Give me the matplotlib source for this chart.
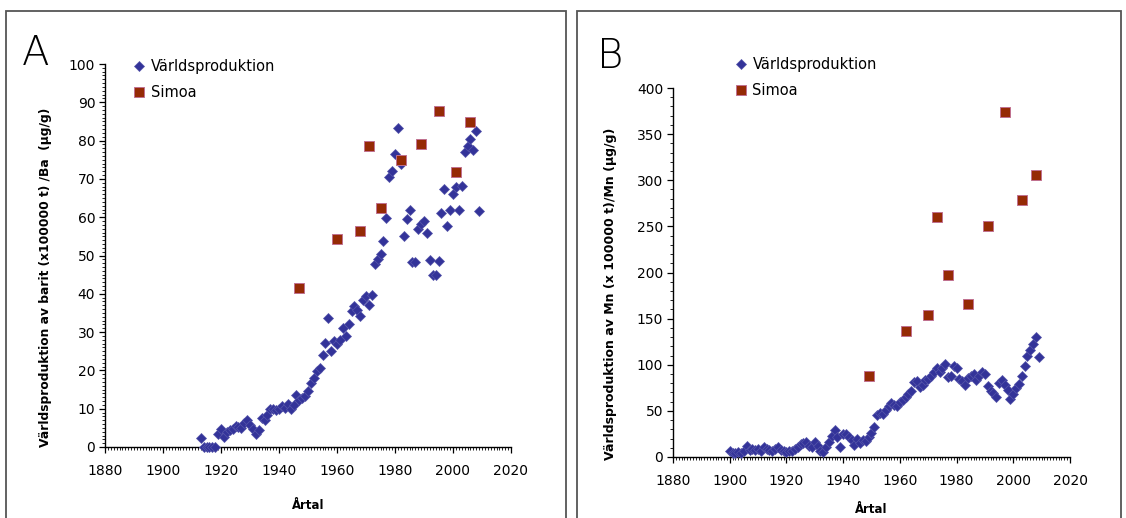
import matplotlib
matplotlib.use("Agg")
import matplotlib.pyplot as plt
from matplotlib.patches import Rectangle
from matplotlib.ticker import MultipleLocator

# --- Panel A: barit / Ba ---
ar_a = list(range(1913, 2010))
varld_a = [
    2.3, 0, 0, 0, 0, 0, 3.5, 4.7, 2.5, 4.0,           # 1913-1922
    4.5, 4.8, 5.5, 5.2, 5.0, 6.2, 7.0, 5.8, 4.6, 3.5,  # 1923-1932
    4.4, 7.5, 7.0, 8.4, 10.0, 10.0, 9.6, 10.0, 10.6, 10.2,  # 1933-1942
    11.1, 9.8, 11.0, 13.7, 12.4, 12.8, 13.2,           # 1943-1949
    14.6, 16.7, 18.0, 19.8, 20.7, 24.1, 27.2, 33.7, 25.0, 27.6,
    27.0, 28.0, 31.1, 28.9, 32.0, 35.5, 36.8, 35.9, 34.2, 38.5,
    39.4, 37.2, 39.8, 47.7, 49.0, 50.3, 53.8, 59.9, 70.4, 72.1,
    76.5, 83.4, 73.8, 55.1, 59.5, 61.9, 48.3, 48.3, 56.8, 58.2,
    59.0, 56.0, 48.7, 44.8, 44.8, 48.6, 61.0, 67.3, 57.7, 61.9,
    66.0, 67.9, 61.9, 68.2, 76.9, 78.6, 80.4, 77.6, 82.6, 61.6,
]
simoa_ar_a = [1947, 1960, 1968, 1971, 1975, 1982, 1989, 1995, 2001, 2006]
simoa_a = [41.6, 54.2, 56.4, 78.6, 62.5, 74.9, 79.1, 87.8, 71.7, 84.9]

# --- Panel B: Mn ---
ar_b = list(range(1900, 2010))
varld_b = [
    6.5, 4.5, 4, 5, 4, 6, 12, 8, 9, 8,
    9, 7, 11, 9, 8, 7, 9, 11, 8, 7,
    5.5, 6.5, 6, 9, 11, 14, 15, 16, 12, 11,
    16, 12, 7, 5, 11, 16, 23, 29, 22, 11,
    25, 25, 22, 18, 13, 20, 15, 18, 17, 22,
    26, 32, 45, 48, 47, 51, 55, 58, 56, 55,
    60, 62, 65, 68, 72, 81, 82, 76, 78, 83,
    85, 88, 92, 97, 92, 96, 101, 87, 88, 99,
    97, 85, 82, 78, 86, 88, 90, 83, 88, 92,
    90, 77, 72, 69, 65, 80, 83, 78, 73, 63,
    68, 75, 79, 88, 99, 110, 116, 122, 130, 108,
]
simoa_ar_b = [1949, 1962, 1970, 1973, 1977, 1984, 1991, 1997, 2003, 2008]
simoa_b = [87.4, 137, 154.3, 260.2, 196.9, 166.2, 250.8, 374.3, 278.2, 305.3]

BLA = "#333399"
ROD = "#952a05"
W, H = 1126, 518


def fig_ax(fig, left, top, right, bottom):
    return fig.add_axes([left / W, 1 - bottom / H,
                         (right - left) / W, (bottom - top) / H])


def stil(ax, ymax, ymaj, ymin):
    ax.set_xlim(1880, 2020)
    ax.set_ylim(0, ymax)
    ax.xaxis.set_major_locator(MultipleLocator(20))
    ax.xaxis.set_minor_locator(MultipleLocator(1))
    ax.yaxis.set_major_locator(MultipleLocator(ymaj))
    ax.yaxis.set_minor_locator(MultipleLocator(ymin))
    for s in ("top", "right"):
        ax.spines[s].set_visible(False)
    for s in ("left", "bottom"):
        ax.spines[s].set_linewidth(1.0)
    ax.tick_params(which="major", direction="out", length=4, width=0.9,
                   labelsize=10, colors="black")
    ax.tick_params(which="minor", direction="out", length=2.5, width=0.6)
    ax.tick_params(axis="x", which="major", pad=8)
    ax.tick_params(axis="y", which="major", pad=3)


plt.rcParams["font.family"] = ["DejaVu Sans"]
fig = plt.figure(figsize=(W / 100, H / 100), dpi=100)

# ramar runt panelerna
for x0, x1 in ((6, 566), (577, 1121)):
    fig.patches.append(Rectangle((x0 / W, -0.1), (x1 - x0) / W, 1.1 - 11 / H,
                                 transform=fig.transFigure, fill=False,
                                 edgecolor="#555555", linewidth=1.3))

axA = fig_ax(fig, 105, 64, 511, 447)
axB = fig_ax(fig, 673, 88, 1070, 457)

paneler = [
    (axA, ar_a, varld_a, simoa_ar_a, simoa_a, 100, 10, 1,
     "Världsproduktion av barit (x100000 t) /Ba  (µg/g)", 8.8, -0.131, -0.136,
     (133, 59), "A", (22, 65)),
    (axB, ar_b, varld_b, simoa_ar_b, simoa_b, 400, 50, 10,
     "Världsproduktion av Mn (x 100000 t)/Mn (µg/g)", 9.0, -0.140, -0.125,
     (735, 57), "B", (597, 68)),
]

for (ax, x1, y1, x2, y2, ymax, ymaj, ymin, ylab, ylfs, ylx, xly,
     leg_pos, bokstav, bpos) in paneler:
    ax.plot(x1, y1, linestyle="none", marker="D", markersize=5.5,
            color=BLA, markeredgecolor="#5555aa", markeredgewidth=0.5,
            label="Världsproduktion", clip_on=False, zorder=3)
    ax.plot(x2, y2, linestyle="none", marker="s", markersize=7.5,
            color=ROD, markeredgecolor="#c07090", markeredgewidth=0.7,
            label="Simoa", clip_on=False, zorder=4)
    stil(ax, ymax, ymaj, ymin)
    ax.set_ylabel(ylab, fontsize=ylfs, fontweight="bold")
    ax.yaxis.set_label_coords(ylx, 0.443)
    ax.set_xlabel("Årtal", fontsize=8.5, fontweight="bold")
    ax.xaxis.set_label_coords(0.5, xly)
    ax.legend(loc="upper left", bbox_to_anchor=(leg_pos[0] / W, 1 - leg_pos[1] / H),
              bbox_transform=fig.transFigure, frameon=False, fontsize=10.5,
              handlelength=0.8, handletextpad=0.4, labelspacing=0.75,
              borderpad=0, borderaxespad=0, markerscale=1.0)
    fig.text(bpos[0] / W, 1 - bpos[1] / H, bokstav, fontsize=29,
             fontweight="light", ha="left", va="baseline")

fig.savefig("out.png", dpi=100)
